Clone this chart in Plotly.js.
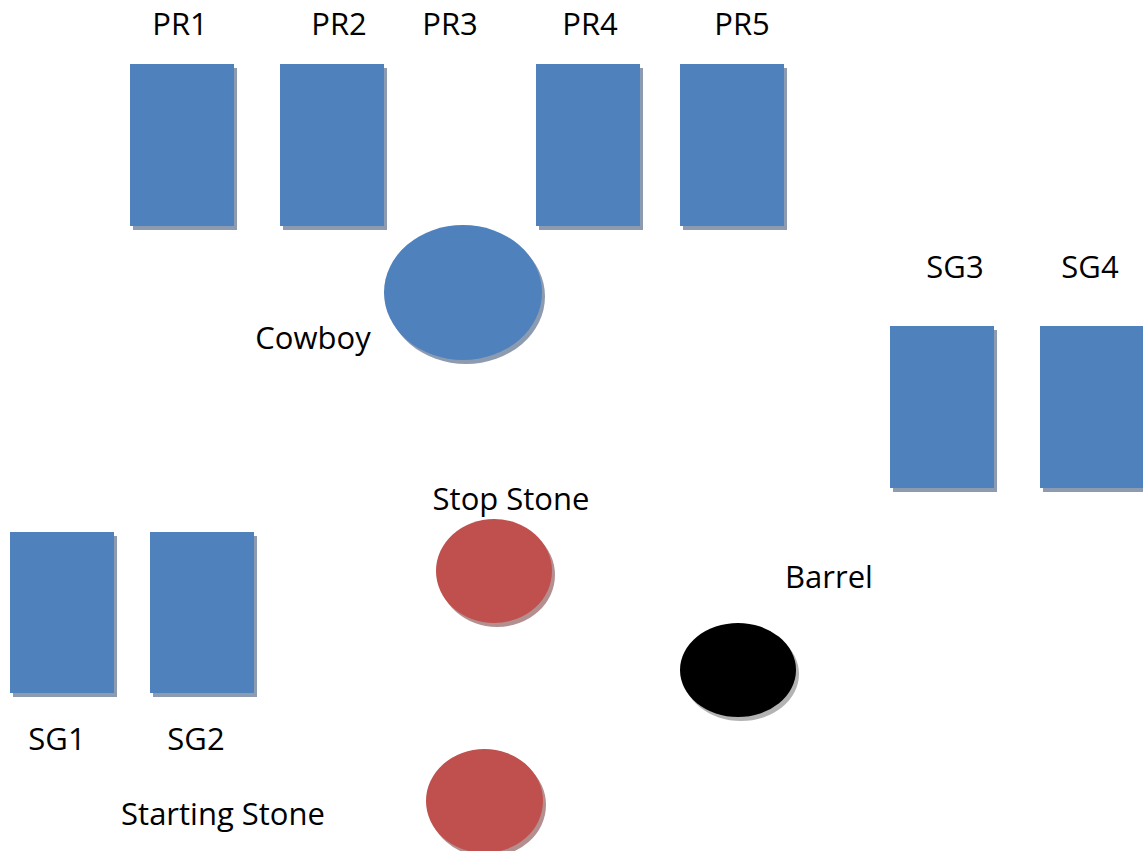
<!DOCTYPE html>
<html>
<head>
<meta charset="utf-8">
<script src="https://cdn.plot.ly/plotly-3.0.1.min.js"></script>
<style>html,body{margin:0;padding:0;background:#fff;}#chart{width:1143px;height:851px;}</style>
</head>
<body>
<div id="chart"></div>
<script>
// Objects of the layout (pixel-like diagram units)
const objNames   = ["PR1","PR2","PR4","PR5","SG3","SG4","SG1","SG2","Cowboy","Stop Stone","Barrel","Starting Stone"];
const objKind    = ["rect","rect","rect","rect","rect","rect","rect","rect","circle","circle","circle","circle"];
const objX0      = [130, 280, 536, 680, 890, 1040, 10, 150, 384, 436, 680, 426];
const objX1      = [234, 384, 640, 784, 994, 1144, 114, 254, 542, 552, 796, 543];
const objY0      = [64, 64, 64, 64, 326, 326, 532, 532, 225, 519, 623, 749];
const objY1      = [226, 226, 226, 226, 488, 488, 693, 693, 360, 623, 717, 853];
const objGroup   = ["blue","blue","blue","blue","blue","blue","blue","blue","blue","red","black","red"];

// Text labels
const labelText = ["PR1","PR2","PR3","PR4","PR5","Cowboy","SG3","SG4","Stop Stone","Barrel","SG1","SG2","Starting Stone"];
const labelX    = [180, 339, 450, 590, 742, 313, 955, 1090, 511, 829, 57, 196, 223];
const labelY    = [27, 27, 27, 27, 27, 341, 270, 270, 502, 580, 742, 742, 817];

const fillColor   = {blue:"#4F81BD", red:"#C0504D", black:"#000000"};
const shadowColor = {blue:"#8D9BB0", red:"#B48F8F", black:"#B3B3B3"};
const SHX = 3, SHY = 4;

const shapes = [];
for (let i = 0; i < objNames.length; i++) {
  const g = objGroup[i];
  shapes.push({type: objKind[i], xref:"x", yref:"y",
    x0: objX0[i]+SHX, x1: objX1[i]+SHX, y0: objY0[i]+SHY, y1: objY1[i]+SHY,
    fillcolor: shadowColor[g], line:{width:0}, layer:"below"});
}
for (let i = 0; i < objNames.length; i++) {
  const g = objGroup[i];
  shapes.push({type: objKind[i], xref:"x", yref:"y",
    x0: objX0[i], x1: objX1[i], y0: objY0[i], y1: objY1[i],
    fillcolor: fillColor[g], line:{width:0}, layer:"below"});
}

const trace = {
  type:"scatter", mode:"text", x: labelX, y: labelY, text: labelText,
  textposition:"middle center",
  textfont:{family:"'Open Sans', sans-serif", size:31, color:"#000"},
  hoverinfo:"none", showlegend:false
};

const layout = {
  width:1143, height:851,
  margin:{l:0,r:0,t:0,b:0},
  paper_bgcolor:"#ffffff", plot_bgcolor:"#ffffff",
  xaxis:{range:[0,1143], visible:false, fixedrange:true},
  yaxis:{range:[851,0], visible:false, fixedrange:true},
  shapes: shapes,
  showlegend:false
};

Plotly.newPlot("chart", [trace], layout, {displayModeBar:false, staticPlot:true});
</script>
</body>
</html>
